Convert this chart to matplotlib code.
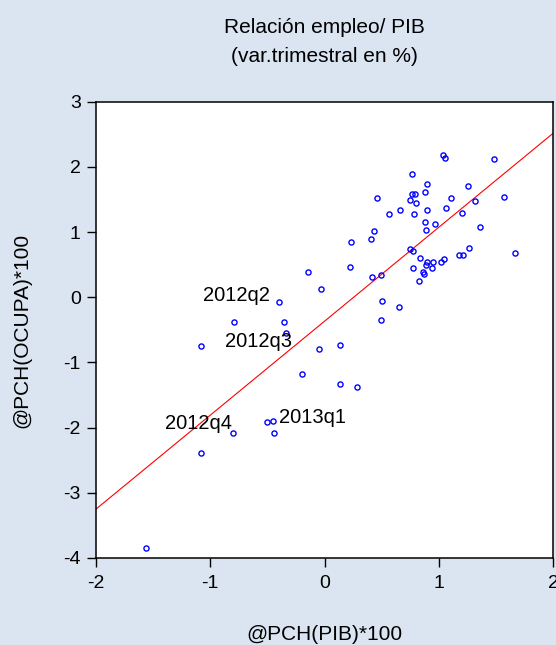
import matplotlib
matplotlib.use("Agg")
import matplotlib.pyplot as plt
import numpy as np

plt.rcParams['font.family'] = ['Liberation Sans', 'DejaVu Sans']

# ---- data ----
pib = [1.034, 1.057, 1.484, 0.763, 0.897, 1.253, 0.880, 0.766, 0.788, 0.462,
       1.110, 0.751, 1.571, 1.320, 0.803, 1.063, 0.661, 0.899, 0.567, 0.783,
       1.202, 0.877, 0.969, 0.886, 1.364, 0.433, 0.407, 0.236, 0.751, 0.777,
       1.267, 1.179, 1.210, 1.665, 0.838, 1.048, 0.895, 0.948, 1.017, 0.891,
       0.943, 0.772, 0.860, 0.869, 0.827, -0.144, 0.219, -0.033, 0.413, 0.494,
       0.506, 0.655, 0.494, -1.084, -0.396, -0.794, -0.352, -0.335, -0.200, 0.133,
       0.282, -0.046, 0.136, -0.501, -0.455, -0.801, -0.446, -1.078, -1.562]
ocupa = [2.187, 2.132, 2.117, 1.887, 1.738, 1.700, 1.611, 1.577, 1.577, 1.519,
         1.523, 1.492, 1.534, 1.482, 1.442, 1.365, 1.334, 1.339, 1.275, 1.278,
         1.296, 1.147, 1.129, 1.037, 1.075, 1.014, 0.887, 0.845, 0.744, 0.710,
         0.756, 0.653, 0.653, 0.672, 0.595, 0.591, 0.546, 0.546, 0.541, 0.488,
         0.454, 0.445, 0.388, 0.353, 0.245, 0.391, 0.460, 0.123, 0.304, 0.342,
         -0.064, -0.153, -0.351, -0.750, -0.077, -0.374, -0.379, -0.543, -1.177, -1.335,
         -1.379, -0.788, -0.739, -1.913, -1.893, -2.082, -2.089, -2.393, -3.846]

fit_intercept = -0.368
fit_slope = 1.441

label_texts = ["2012q2", "2012q3", "2012q4", "2013q1"]
label_x = [-1.066, -0.870, -1.393, -0.395]
label_y = [-0.052, -0.767, -2.025, -1.933]

x_ticks = [-2, -1, 0, 1, 2]
y_ticks = [-4, -3, -2, -1, 0, 1, 2, 3]

title_lines = ["Relación empleo/ PIB", "(var.trimestral en %)"]
x_label = "@PCH(PIB)*100"
y_label = "@PCH(OCUPA)*100"

# ---- figure ----
W, H = 556, 645
bg = '#dbe5f1'
fig = plt.figure(figsize=(W / 100, H / 100), dpi=100, facecolor=bg)
ax = fig.add_axes([96 / W, 1 - 558 / H, (553 - 96) / W, (558 - 101.7) / H])
ax.set_facecolor('white')

xl = np.array([-2.0, 2.0])
ax.plot(xl, fit_intercept + fit_slope * xl, color='#ff0000', lw=0.8, zorder=2)
ax.plot(pib, ocupa, 'o', mfc='none', mec='#0000ff', ms=3.7, mew=1.0,
        linestyle='none', zorder=3)

for t, x, y in zip(label_texts, label_x, label_y):
    ax.text(x, y, t, fontsize=14.5, ha='left', va='baseline', color='black')

ax.set_xlim(-2, 2)
ax.set_ylim(-4, 3)
ax.set_xticks(x_ticks)
ax.set_yticks(y_ticks)
ax.set_xticklabels([str(v) for v in x_ticks])
ax.set_yticklabels([str(v) for v in y_ticks])
ax.tick_params(axis='both', direction='out', length=6.5, width=1.0,
               labelsize=14, color='black')
ax.tick_params(axis='x', pad=5.5)
ax.tick_params(axis='y', pad=4.5)
for s in ax.spines.values():
    s.set_linewidth(1.1)
    s.set_color('black')

fig.text(324.5 / W, 1 - 33.3 / H, title_lines[0], ha='center', va='baseline', fontsize=15)
fig.text(324.5 / W, 1 - 62.5 / H, title_lines[1], ha='center', va='baseline', fontsize=15)
fig.text(324.5 / W, 1 - 635 / H, x_label, ha='center', va='center', fontsize=15)
fig.text(22 / W, 1 - 330 / H, y_label, ha='center', va='center', fontsize=15, rotation=90)

fig.savefig('out.png', dpi=100, facecolor=bg)
